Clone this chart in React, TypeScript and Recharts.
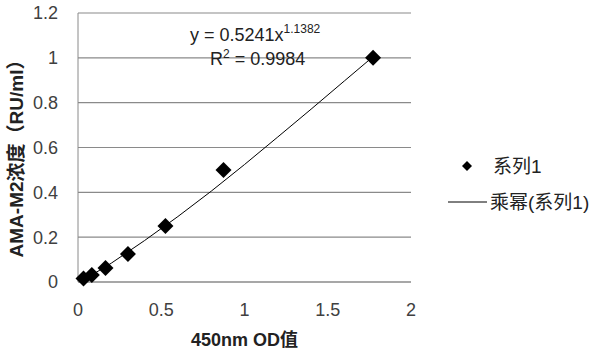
import React from 'react'
import { ScatterChart, Scatter, XAxis, YAxis, CartesianGrid, Label } from 'recharts'

// measured points (450nm OD vs AMA-M2 concentration)
const odValues = [0.033, 0.083, 0.165, 0.3, 0.525, 0.874, 1.772]
const concValues = [0.0156, 0.03125, 0.0625, 0.125, 0.25, 0.5, 1.0]

// power trendline
const trendX = [0.033, 0.1, 0.2, 0.4, 0.6, 0.8, 1.0, 1.2, 1.4, 1.6, 1.772]
const trendY = [0.011, 0.039, 0.084, 0.185, 0.292, 0.405, 0.524, 0.647, 0.771, 0.897, 1.005]

const xTicks = [0, 0.5, 1, 1.5, 2]
const yTicks = [0, 0.2, 0.4, 0.6, 0.8, 1, 1.2]

const seriesName = '系列1'
const trendName = '乘幂(系列1)'
const xTitle = '450nm OD值'
const yTitle = 'AMA-M2浓度（RU/ml）'

const FONT = '"Liberation Sans", "Noto Sans CJK SC", sans-serif'
const GRID = '#8a8a8a'
const TEXT = '#404040'

const points = odValues.map((x, i) => ({ x, y: concValues[i] }))
const trend = trendX.map((x, i) => ({ x, y: trendY[i] }))

const Diamond = (props: any) => {
  const { cx, cy } = props
  const r = 8
  return <path d={`M${cx} ${cy - r} L${cx + r} ${cy} L${cx} ${cy + r} L${cx - r} ${cy} Z`} fill="#000" />
}

const Nothing = () => <g />

export default function App() {
  return (
    <div style={{ position: 'absolute', left: 0, top: 0, width: 600, height: 355, background: '#fff', fontFamily: FONT }}>
      <ScatterChart width={600} height={355} margin={{ top: 13, right: 189, bottom: 0, left: 0 }}>
        <CartesianGrid vertical={false} stroke={GRID} strokeWidth={1.2} />
        <XAxis
          type="number"
          dataKey="x"
          domain={[0, 2]}
          ticks={xTicks}
          height={73}
          axisLine={{ stroke: GRID }}
          tickLine={false}
          tickMargin={15}
          tick={{ fill: TEXT, fontSize: 18, fontFamily: FONT }}
        >
          <Label
            value={xTitle}
            position="insideBottom"
            offset={9}
            style={{ fontWeight: 'bold', fontSize: 18, fill: '#222', fontFamily: FONT }}
          />
        </XAxis>
        <YAxis
          type="number"
          dataKey="y"
          domain={[0, 1.2]}
          ticks={yTicks}
          width={78}
          axisLine={{ stroke: GRID }}
          tickLine={false}
          tickMargin={14}
          tick={{ fill: TEXT, fontSize: 18, fontFamily: FONT }}
        />
        <Scatter
          name={trendName}
          data={trend}
          line={{ stroke: '#000', strokeWidth: 1 }}
          shape={Nothing}
          isAnimationActive={false}
        />
        <Scatter name={seriesName} data={points} shape={Diamond} isAnimationActive={false} />
      </ScatterChart>

      {/* equation, y-axis title and legend */}
      <svg width={600} height={355} style={{ position: 'absolute', left: 0, top: 0, pointerEvents: 'none' }}>
        <text x={190} y={41} fontSize={18} fill="#222" fontFamily={FONT}>
          y = 0.5241x
          <tspan fontSize={12} dy={-8}>1.1382</tspan>
        </text>
        <text x={210} y={65} fontSize={18} fill="#222" fontFamily={FONT}>
          R<tspan fontSize={12} dy={-7}>2</tspan>
          <tspan dy={7}> = 0.9984</tspan>
        </text>
        <text
          x={16}
          y={154}
          transform="rotate(-90 16 154)"
          textAnchor="middle"
          dominantBaseline="central"
          fontSize={19}
          fontWeight="bold"
          fill="#222"
          fontFamily={FONT}
        >
          {yTitle}
        </text>
        <path d="M467 161 L472 166 L467 171 L462 166 Z" fill="#000" />
        <text x={493} y={166} dominantBaseline="central" fontSize={19} fill="#222" fontFamily={FONT}>
          {seriesName}
        </text>
        <line x1={448} x2={487} y1={202} y2={202} stroke="#000" strokeWidth={1} />
        <text x={490} y={202} dominantBaseline="central" fontSize={19} fill="#222" fontFamily={FONT}>
          {trendName}
        </text>
      </svg>
    </div>
  )
}
